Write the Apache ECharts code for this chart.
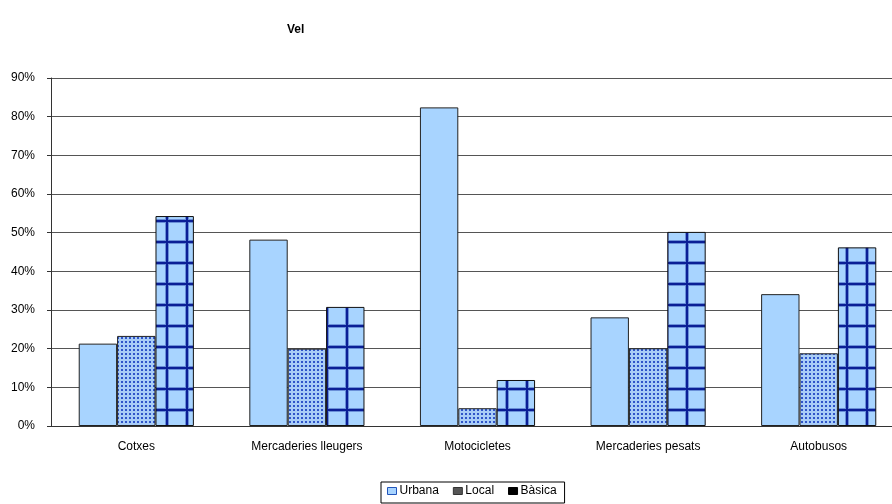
<!DOCTYPE html>
<html>
<head>
<meta charset="utf-8">
<script src="https://cdn.jsdelivr.net/npm/echarts@6/dist/echarts.min.js"></script>
<style>
  html, body { margin: 0; padding: 0; background: #fff; }
  #chart { width: 892px; height: 504px; }
</style>
</head>
<body>
<div id="chart"></div>
<script>
// Share of each road type per vehicle class (%)
const categories = ['Cotxes', 'Mercaderies lleugers', 'Motocicletes', 'Mercaderies pesats', 'Autobusos'];
const seriesNames = ['Urbana', 'Local', 'Bàsica'];
const urbana = [21.3, 48.2, 82.4, 28.1, 34.1];
const local = [23.3, 20.0, 4.6, 20.1, 18.8];
const basica = [54.3, 30.8, 11.9, 50.2, 46.2];
const yTicks = [0, 10, 20, 30, 40, 50, 60, 70, 80, 90];

// Dotted fill for "Local"
function dotPattern() {
  const c = document.createElement('canvas');
  c.width = 4; c.height = 4;
  const g = c.getContext('2d');
  g.fillStyle = '#a9cdf7';
  g.fillRect(0, 0, 4, 4);
  g.fillStyle = '#2f55c9';
  g.fillRect(1, 1, 2, 2);
  return c;
}
// Grid fill for "Bàsica"
function gridPattern() {
  const c = document.createElement('canvas');
  c.width = 20; c.height = 21;
  const g = c.getContext('2d');
  g.fillStyle = '#a8d4ff';
  g.fillRect(0, 0, 20, 21);
  g.fillStyle = '#6a8fd8';
  g.fillRect(5, 0, 4, 21);
  g.fillRect(0, 9, 20, 4);
  g.fillStyle = '#0b1f96';
  g.fillRect(6, 0, 2, 21);
  g.fillRect(0, 10, 20, 2);
  return c;
}

const chart = echarts.init(document.getElementById('chart'), null, { renderer: 'canvas' });
const fontFamily = 'Arial, "Liberation Sans", sans-serif';
const border = { borderColor: '#222', borderWidth: 1 };

chart.setOption({
  animation: false,
  backgroundColor: '#fff',
  title: {
    text: 'Vel',
    left: 287,
    top: 24,
    padding: 0,
    textStyle: { fontFamily, fontSize: 12, fontWeight: 'bold', color: '#000' }
  },
  legend: {
    left: 381,
    top: 482,
    itemGap: 14,
    itemWidth: 9,
    itemHeight: 7,
    borderColor: '#000',
    borderWidth: 1,
    padding: [3, 8, 6, 6],
    textStyle: { fontFamily, fontSize: 12, color: '#000', padding: [0, 0, 0, -2] },
    data: [
      { name: 'Urbana', icon: 'rect', itemStyle: { color: '#a8d4ff', borderColor: '#2255bb', borderWidth: 1 } },
      { name: 'Local', icon: 'rect', itemStyle: { color: '#555', borderColor: '#333', borderWidth: 1 } },
      { name: 'Bàsica', icon: 'rect', itemStyle: { color: '#000', borderColor: '#000', borderWidth: 1 } }
    ]
  },
  grid: { left: 51, top: 78, width: 853, height: 348, outerBoundsMode: 'none', containLabel: false },
  xAxis: {
    type: 'category',
    data: categories,
    axisLine: { lineStyle: { color: '#333', width: 1 } },
    axisTick: { show: false },
    axisLabel: { fontFamily, fontSize: 12, color: '#000', margin: 15 }
  },
  yAxis: {
    type: 'value',
    min: yTicks[0],
    max: yTicks[yTicks.length - 1],
    interval: 10,
    axisLine: { show: true, lineStyle: { color: '#333', width: 1 } },
    axisTick: { show: true, length: 4, lineStyle: { color: '#333' } },
    axisLabel: { fontFamily, fontSize: 12, color: '#000', margin: 16, formatter: v => v + '%' },
    splitLine: { lineStyle: { color: '#555', width: 1 } }
  },
  series: [
    {
      name: seriesNames[0], type: 'bar', data: urbana,
      barGap: '0%', barCategoryGap: '32.5%',
      itemStyle: Object.assign({ color: '#a8d4ff' }, border)
    },
    {
      name: seriesNames[1], type: 'bar', data: local,
      barGap: '0%', barCategoryGap: '32.5%',
      itemStyle: Object.assign({ color: { image: dotPattern(), repeat: 'repeat' } }, border)
    },
    {
      name: seriesNames[2], type: 'bar', data: basica,
      barGap: '0%', barCategoryGap: '32.5%',
      itemStyle: Object.assign({ color: { image: gridPattern(), repeat: 'repeat' } }, { borderColor: '#111', borderWidth: 1 })
    }
  ]
});
</script>
</body>
</html>
